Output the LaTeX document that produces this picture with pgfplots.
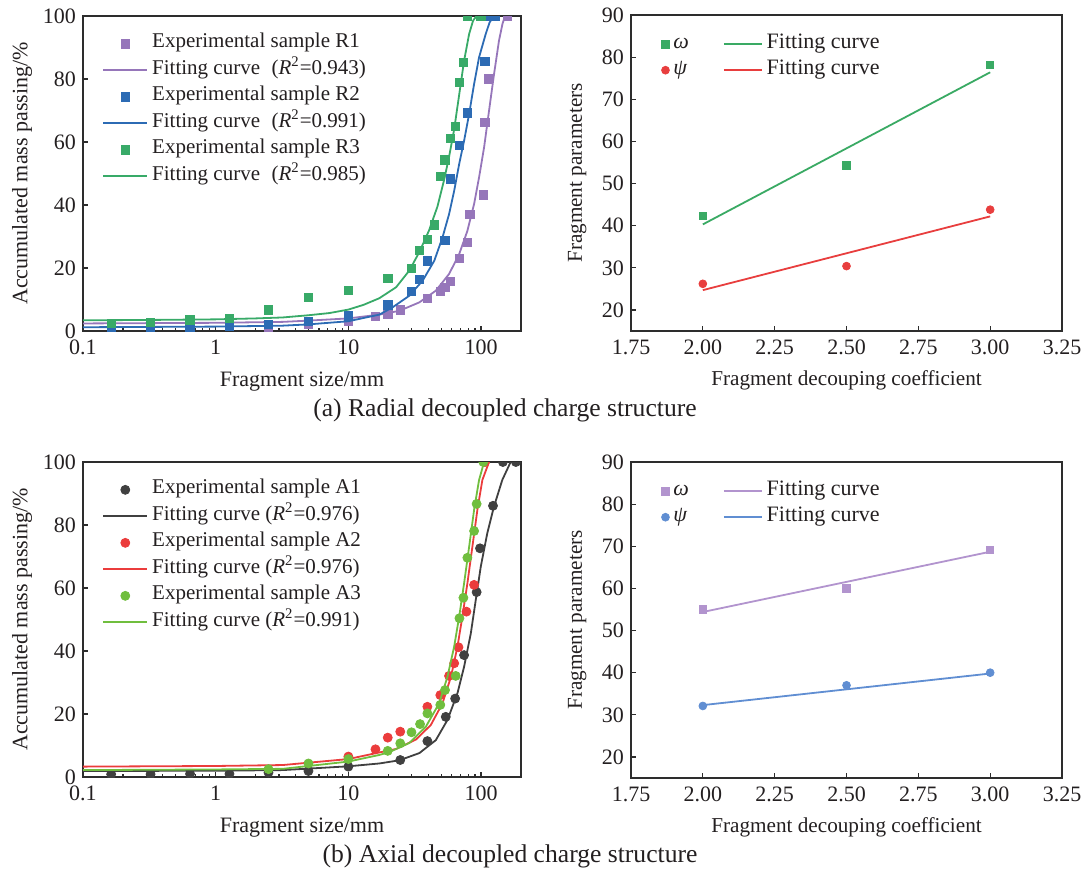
\documentclass[border=0pt]{standalone}
\usepackage{fontspec}
\setmainfont{Liberation Serif}
\usepackage{pgfplots}
\pgfplotsset{compat=1.18}

\definecolor{txt}{RGB}{35,31,32}
\definecolor{axisgray}{RGB}{45,45,45}
\definecolor{rone}{RGB}{150,118,186}
\definecolor{rtwo}{RGB}{44,107,180}
\definecolor{rthree}{RGB}{56,170,104}
\definecolor{aone}{RGB}{64,64,64}
\definecolor{atwo}{RGB}{235,60,60}
\definecolor{athree}{RGB}{112,190,62}
\definecolor{omegaA}{RGB}{58,170,100}
\definecolor{psiA}{RGB}{232,62,62}
\definecolor{omegaB}{RGB}{178,148,206}
\definecolor{psiB}{RGB}{96,142,210}

\pgfplotsset{
  legend image code/.code={\draw[mark repeat=2,mark phase=2,#1] plot coordinates {(0pt,0pt) (11pt,0pt) (22pt,0pt)};},
  axframe/.style={
    scale only axis,
    axis line style={line width=0.9pt, draw=axisgray},
    tick style={line width=0.6pt, draw=axisgray},
    major tick length=2.5pt, minor tick length=1.5pt,
    xtick pos=lower, ytick pos=left,
    tick label style={font=\fontsize{11}{13}\selectfont, text=txt},
    xticklabel style={yshift=-1pt},
    /pgf/number format/assume math mode=true,
    clip marker paths=true,
  },
  sizeaxis/.style={
    axframe,
    width=219pt, height=157.5pt,
    xmin=0.1, xmax=200, ymin=0, ymax=100,
    xtick={0.1,1,10,100}, xticklabels={0.1,1,10,100},
    minor xtick={0.2,0.3,0.4,0.5,0.6,0.7,0.8,0.9,2,3,4,5,6,7,8,9,20,30,40,50,60,70,80,90,200},
    ytick={0,20,40,60,80,100},
    label style={font=\fontsize{11}{13}\selectfont, text=txt},
    xlabel={Fragment size/mm},
    ylabel={Accumulated mass passing/\%},
    xlabel style={at={(axis description cs:0.5,-0.159)}, anchor=center},
    ylabel style={at={(axis description cs:-0.139,0.5)}, anchor=center},
    legend style={draw=none, fill=none, at={(axis description cs:0.0434,0.955)},
      anchor=north west, font=\fontsize{10.5}{12}\selectfont, text=txt,
      row sep=0pt, inner sep=0pt,
      nodes={inner xsep=2pt, inner ysep=0pt, text height=8.7pt, text depth=4.55pt}},
    legend cell align=left,
  },
  paraxis/.style={
    axframe,
    width=215.5pt, height=158pt,
    xmin=1.75, xmax=3.25, ymin=15, ymax=90,
    xtick={1.75,2,2.25,2.5,2.75,3,3.25},
    xticklabel style={/pgf/number format/.cd, fixed, fixed zerofill, precision=2},
    ytick={20,30,40,50,60,70,80,90},
    label style={font=\fontsize{10.6}{13}\selectfont, text=txt},
    xlabel={Fragment decouping coefficient},
    ylabel={Fragment parameters},
    xlabel style={at={(axis description cs:0.5,-0.155)}, anchor=center},
    ylabel style={at={(axis description cs:-0.125,0.5)}, anchor=center},
    legend columns=2,
    legend image code/.code={\draw[mark repeat=2,mark phase=2,##1] plot coordinates {(0pt,0pt) (5pt,0pt) (10pt,0pt)};},
    legend style={draw=none, fill=none, at={(axis description cs:0.07,0.95)},
      anchor=north west, font=\fontsize{11}{13}\selectfont, text=txt,
      inner sep=0pt,
      nodes={inner xsep=2pt, inner ysep=0pt, text height=8.7pt, text depth=4.3pt},
      /tikz/every even column/.append style={column sep=15pt}},
    legend cell align=left,
  },
  fitline/.style={legend image code/.code={\draw[##1] (0pt,0pt) -- (19pt,0pt);}},
}

\begin{document}
\begin{tikzpicture}
\useasboundingbox (0,0) rectangle (545.5pt,-434pt);

% ---------------- (a) radial decoupling: size distribution ----------------
\begin{axis}[xmode=log, sizeaxis, at={(41.5pt,-8pt)}, anchor=north west]
\addplot[only marks, mark=square*, mark size=2.1pt, color=rone] coordinates {
 (2.5,0.3) (5,2.2) (10,3.2) (16,4.6) (19.8,5.4) (24.6,6.7) (39.4,10.4)
 (49.3,12.6) (53.5,13.9) (58.5,15.8) (68.4,23.1) (78.9,28.2) (82.6,37.0)
 (104,43.2) (107.2,66.3) (113.5,80.0) (158,100)};
\addlegendentry{Experimental sample R1}
\addplot[line width=0.9pt, color=rone] coordinates {
 (0.1,2.4) (1,2.6) (3.2,2.9) (5,3.3) (10,4.0) (17.1,5.2) (24.2,6.4) (34.3,9.1)
 (45.6,12.8) (57.4,18.1) (68.4,24.4) (78.9,31.8) (88.6,40.3) (96.6,48.8)
 (105.4,58.3) (114.8,69.9) (125.3,81.6) (136.5,92.2) (145,97.5) (151.4,100)};
\addlegendentry{Fitting curve\hspace{0.55em}(\textit{R}\textsuperscript{2}=0.943)}
\addplot[only marks, mark=square*, mark size=2.1pt, color=rtwo] coordinates {
 (0.163,0.3) (0.323,0.4) (0.641,1.2) (1.27,1.6) (2.5,2.1) (5,3.0) (10,4.8)
 (19.8,8.3) (29.9,12.6) (34.3,16.4) (39.4,22.2) (53.5,28.8) (58.5,48.3)
 (68.7,59.0) (78.9,69.2) (107.2,85.6) (112,100) (128,100)};
\addlegendentry{Experimental sample R2}
\addplot[line width=0.9pt, color=rtwo] coordinates {
 (0.1,1.2) (1,1.4) (3.2,1.7) (5,2.1) (10,3.1) (17.1,5.2) (21.5,7.5) (28.8,11.2)
 (36.3,16.0) (44.4,22.3) (51.2,29.7) (57.4,37.1) (62.7,44.5) (68.4,53.0)
 (74.5,60.4) (81.3,68.9) (88.6,78.4) (96.6,86.9) (108.4,94.3) (116,98) (125,100)};
\addlegendentry{Fitting curve\hspace{0.55em}(\textit{R}\textsuperscript{2}=0.991)}
\addplot[only marks, mark=square*, mark size=2.1pt, color=rthree] coordinates {
 (0.163,2.4) (0.323,2.7) (0.641,3.5) (1.27,4.0) (2.5,6.7) (5,10.7) (10,12.8)
 (19.8,16.7) (29.9,19.9) (34.3,25.6) (39.4,29.1) (44.4,33.7) (49.3,49.1)
 (53.5,54.3) (58.5,61.2) (63.8,65.0) (68.4,79.0) (73.6,85.3) (78.9,100) (99.5,100)};
\addlegendentry{Experimental sample R3}
\addplot[line width=0.9pt, color=rthree] coordinates {
 (0.1,3.4) (0.3,3.5) (1,3.7) (2,4.0) (3.2,4.3) (5,5.0) (7.2,5.7) (10,6.8)
 (13,8.3) (17.1,10.4) (22.9,13.9) (28.8,19.2) (34.3,25.1) (40.6,32.0)
 (46.9,39.5) (52.7,48.0) (57.4,55.3) (62.7,64.0) (68.4,75.0) (74.5,85.8)
 (81.3,94.3) (87,98.5) (92.3,100)};
\addlegendentry{Fitting curve\hspace{0.55em}(\textit{R}\textsuperscript{2}=0.985)}
\end{axis}

% ---------------- (a) radial decoupling: fragment parameters ----------------
\begin{axis}[paraxis, at={(315.5pt,-7.5pt)}, anchor=north west]
\addplot[only marks, mark=square*, mark size=1.85pt, color=omegaA] coordinates {
 (2,42.3) (2.5,54.3) (3,78.2)};
\addlegendentry{\textit{ω}}
\addplot[fitline, line width=0.9pt, color=omegaA] coordinates {(2,40.3) (3,76.4)};
\addlegendentry{Fitting curve}
\addplot[only marks, mark=*, mark size=1.95pt, color=psiA] coordinates {
 (2,26.2) (2.5,30.4) (3,43.8)};
\addlegendentry{\textit{ψ}}
\addplot[fitline, line width=0.9pt, color=psiA] coordinates {(2,24.7) (3,42.2)};
\addlegendentry{Fitting curve}
\end{axis}

% ---------------- (b) axial decoupling: size distribution ----------------
\begin{axis}[xmode=log, sizeaxis, at={(41.5pt,-231pt)}, anchor=north west]
\addplot[only marks, mark=*, mark size=2.25pt, color=aone] coordinates {
 (0.163,0.9) (0.323,0.9) (0.641,1.0) (1.27,1.0) (2.5,1.4) (5,1.9) (10,3.3)
 (24.6,5.4) (39.4,11.4) (54.2,19.1) (63.8,24.9) (74.5,38.7) (92.6,58.7)
 (98.2,72.6) (123,86.1) (146,100) (183,100)};
\addlegendentry{Experimental sample A1}
\addplot[line width=0.9pt, color=aone] coordinates {
 (0.1,1.9) (1,2.0) (3.2,2.2) (10,3.4) (17.1,4.3) (24.2,5.3) (34.3,7.6)
 (45.6,11.7) (55.8,18.1) (66.4,26.6) (74.5,35.0) (83.7,45.6) (91.2,56.2)
 (99.5,66.8) (111.4,77.4) (125,85.8) (144.5,94.3) (167,100)};
\addlegendentry{Fitting curve (\textit{R}\textsuperscript{2}=0.976)}
\addplot[only marks, mark=*, mark size=2.25pt, color=atwo] coordinates {
 (10,6.5) (16,8.8) (19.8,12.5) (24.6,14.4) (39.4,22.3) (49.3,26.0) (57.4,32.1)
 (62.7,36.1) (67.6,41.2) (77.6,52.5) (88.6,61.0) (107,100)};
\addlegendentry{Experimental sample A2}
\addplot[line width=0.9pt, color=atwo] coordinates {
 (0.1,3.3) (1,3.5) (3.2,3.8) (10,5.7) (17.1,7.8) (22.9,8.9) (32.3,11.9)
 (41.8,16.5) (51.2,23.4) (59.3,31.8) (66.4,41.4) (72.3,50.9) (78.9,61.5)
 (86.0,73.1) (93.8,84.8) (102.3,94.3) (114.8,100)};
\addlegendentry{Fitting curve (\textit{R}\textsuperscript{2}=0.976)}
\addplot[only marks, mark=*, mark size=2.25pt, color=athree] coordinates {
 (2.5,2.5) (5,4.3) (10,5.7) (19.8,8.3) (24.6,10.7) (29.9,14.2) (34.7,16.8)
 (39.4,20.2) (49.3,22.9) (53.5,27.6) (64.4,32.1) (68.7,50.4) (73.6,56.9)
 (78.9,69.6) (88.6,78.1) (92.6,86.7) (104,100)};
\addlegendentry{Experimental sample A3}
\addplot[line width=0.9pt, color=athree] coordinates {
 (0.1,2.2) (1,2.4) (3.2,2.6) (10,4.9) (17.1,7.0) (20.3,7.9) (28.8,10.8)
 (38.4,16.0) (48.3,23.4) (55.8,31.8) (62.7,41.4) (68.4,50.9) (74.5,61.5)
 (81.3,73.1) (88.6,84.8) (96.6,94.3) (105.4,100)};
\addlegendentry{Fitting curve (\textit{R}\textsuperscript{2}=0.991)}
\end{axis}

% ---------------- (b) axial decoupling: fragment parameters ----------------
\begin{axis}[paraxis, at={(315.5pt,-231pt)}, anchor=north west]
\addplot[only marks, mark=square*, mark size=1.85pt, color=omegaB] coordinates {
 (2,55.0) (2.5,60.0) (3,69.1)};
\addlegendentry{\textit{ω}}
\addplot[fitline, line width=0.9pt, color=omegaB] coordinates {(2,54.4) (3,68.7)};
\addlegendentry{Fitting curve}
\addplot[only marks, mark=*, mark size=1.95pt, color=psiB] coordinates {
 (2,32.1) (2.5,37.0) (3,40.0)};
\addlegendentry{\textit{ψ}}
\addplot[fitline, line width=0.9pt, color=psiB] coordinates {(2,32.3) (3,39.8)};
\addlegendentry{Fitting curve}
\end{axis}

\node[font=\fontsize{12.8}{15}\selectfont, text=txt] at (252.5pt,-205pt) {(a) Radial decoupled charge structure};
\node[font=\fontsize{12.8}{15}\selectfont, text=txt] at (255pt,-428.3pt) {(b) Axial decoupled charge structure};
\end{tikzpicture}
\end{document}
